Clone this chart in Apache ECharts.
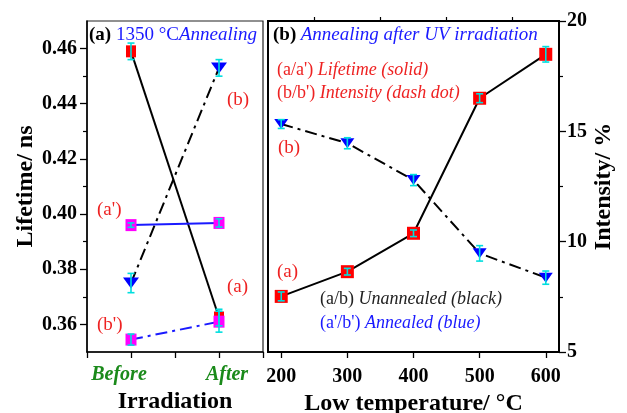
<!DOCTYPE html>
<html><head><meta charset="utf-8">
<script src="https://cdn.jsdelivr.net/npm/echarts@6/dist/echarts.min.js"></script>
<style>html,body{margin:0;padding:0;background:#fff}#c{width:627px;height:413px}</style>
</head><body><div id="c"></div>
<script>
// ---- data ----
const irradiationLabels = ['Before', 'After'];
const irradiationPos = [1, 3];
const lifetimeUnannealed = [0.4590, 0.3625];
const lifetimeUnannealedErr = [0.0030, 0.0030];
const intensityUnannealed = [0.3750, 0.4530];
const intensityUnannealedErr = [0.0035, 0.0030];
const lifetimeAnnealed = [0.3960, 0.3968];
const lifetimeAnnealedErr = [0.0008, 0.0015];
const intensityAnnealed = [0.3545, 0.3610];
const intensityAnnealedErr = [0.0020, 0.0038];

const temperatures = [200, 300, 400, 500, 600];
const lifetimeTemp = [7.52, 8.64, 10.38, 16.50, 18.49];
const lifetimeTempErr = [0.20, 0.15, 0.15, 0.20, 0.35];
const intensityTemp = [15.33, 14.46, 12.79, 9.47, 8.37];
const intensityTempErr = [0.20, 0.25, 0.25, 0.35, 0.30];

const leftTicks = [0.36, 0.38, 0.40, 0.42, 0.44, 0.46];
const leftMinorTicks = [0.37, 0.39, 0.41, 0.43, 0.45];
const tempTicks = [200, 300, 400, 500, 600];
const tempMinorTicks = [250, 350, 450, 550];

// ---- helpers ----
const FONT = '"Liberation Serif","Times New Roman",Times,serif';
const RED = '#ee2222', BLUE = '#1a1aff', GREEN = '#1a8a1a';
const pair = (xs, ys) => xs.map((x, i) => [x, ys[i]]);
const triple = (xs, ys, es) => xs.map((x, i) => [x, ys[i], es[i]]);
const axLine = {show: true, lineStyle: {color: '#000', width: 1.5}};

function errRender(params, api) {
  const x = api.value(0), y = api.value(1), e = api.value(2);
  const t = api.coord([x, y + e]), b = api.coord([x, y - e]);
  const w = 3.5;
  const style = {stroke: '#00dede', lineWidth: 1.6};
  return {type: 'group', children: [
    {type: 'line', shape: {x1: t[0], y1: t[1], x2: b[0], y2: b[1]}, style},
    {type: 'line', shape: {x1: t[0] - w, y1: t[1], x2: t[0] + w, y2: t[1]}, style},
    {type: 'line', shape: {x1: b[0] - w, y1: b[1], x2: b[0] + w, y2: b[1]}, style}
  ]};
}
function errSeries(data, xi, yi) {
  return {type: 'custom', xAxisIndex: xi, yAxisIndex: yi, renderItem: errRender,
    dimensions: ['x', 'y', 'e'], encode: {x: 0, y: 1}, data, z: 10, silent: true};
}
function lineSeries(data, xi, yi, color, dash, symbol, size, fill, rotate) {
  return {type: 'line', xAxisIndex: xi, yAxisIndex: yi, data,
    lineStyle: {color, width: 2, type: dash ? [12, 5, 3, 5] : 'solid'},
    symbol, symbolSize: size, symbolRotate: rotate || 0, showSymbol: true,
    itemStyle: {color: fill, borderColor: fill, borderWidth: 0, opacity: 1},
    z: 3, animation: false};
}
const dashDot = true;

const series = [
  // panel (a)
  lineSeries(pair(irradiationPos, intensityUnannealed), 0, 0, '#000', dashDot, 'triangle', [16, 11], '#0000ff', 180),
  lineSeries(pair(irradiationPos, lifetimeUnannealed), 0, 0, '#000', false, 'rect', [10, 12], '#ff0000'),
  lineSeries(pair(irradiationPos, lifetimeAnnealed), 0, 0, BLUE, false, 'rect', [11, 12], '#ff00ff'),
  lineSeries(pair(irradiationPos, intensityAnnealed), 0, 0, BLUE, dashDot, 'rect', [11, 12], '#ff00ff'),
  errSeries(triple(irradiationPos, intensityUnannealed, intensityUnannealedErr), 0, 0),
  errSeries(triple(irradiationPos, lifetimeUnannealed, lifetimeUnannealedErr), 0, 0),
  errSeries(triple(irradiationPos, lifetimeAnnealed, lifetimeAnnealedErr), 0, 0),
  errSeries(triple(irradiationPos, intensityAnnealed, intensityAnnealedErr), 0, 0),
  // panel (b)
  lineSeries(pair(temperatures, intensityTemp), 1, 2, '#000', dashDot, 'triangle', [14, 10], '#0000ff', 180),
  lineSeries(pair(temperatures, lifetimeTemp), 1, 2, '#000', false, 'rect', [13, 13], '#ff0000'),
  errSeries(triple(temperatures, intensityTemp, intensityTempErr), 1, 2),
  errSeries(triple(temperatures, lifetimeTemp, lifetimeTempErr), 1, 2)
];

const RICH = {
  bk: {fontFamily: FONT, fontSize: 19, fontWeight: 'bold', fill: '#000'},
  bl: {fontFamily: FONT, fontSize: 19, fill: BLUE},
  bli: {fontFamily: FONT, fontSize: 19, fontStyle: 'italic', fill: BLUE},
  rd: {fontFamily: FONT, fontSize: 18, fill: RED},
  rdi: {fontFamily: FONT, fontSize: 18, fontStyle: 'italic', fill: RED},
  rl: {fontFamily: FONT, fontSize: 19, fill: RED},
  k: {fontFamily: FONT, fontSize: 18, fill: '#222'},
  ki: {fontFamily: FONT, fontSize: 18, fontStyle: 'italic', fill: '#222'},
  b2: {fontFamily: FONT, fontSize: 18, fill: BLUE},
  bi2: {fontFamily: FONT, fontSize: 18, fontStyle: 'italic', fill: BLUE}
};
function txt(x, y, text) {
  return {type: 'text', x, y, z: 100, style: {text, verticalAlign: 'middle', align: 'left', rich: RICH, fill: '#000', font: '18px ' + FONT}};
}

const graphic = [
  txt(89, 35, '{bk|(a)}{bl| 1350 °C}{bli|Annealing}'),
  txt(273, 35, '{bk|(b)} {bli|Annealing after UV irradiation}'),
  txt(277, 70, "{rd|(a/a')} {rdi|Lifetime (solid)}"),
  txt(277, 93, "{rd|(b/b')} {rdi|Intensity (dash dot)}"),
  txt(278, 148, '{rl|(b)}'),
  txt(277, 272, '{rl|(a)}'),
  txt(320, 299, '{k|(a/b)} {ki|Unannealed (black)}'),
  txt(320, 323, "{b2|(a'/b')} {bi2|Annealed (blue)}"),
  txt(227, 100, '{rl|(b)}'),
  txt(97, 210, "{rl|(a')}"),
  txt(227, 287, '{rl|(a)}'),
  txt(97, 325, "{rl|(b')}")
];

const tickLbl = {fontFamily: FONT, fontSize: 20, fontWeight: 'bold', color: '#000'};
const nameStyle = {fontFamily: FONT, fontSize: 24, fontWeight: 'bold', color: '#000'};

const option = {
  animation: false,
  backgroundColor: '#fff',
  grid: [
    {left: 87, top: 21, width: 176, height: 331, show: true, borderColor: '#222', borderWidth: 1.2, containLabel: false, outerBoundsMode: 'none'},
    {left: 268, top: 21, width: 291, height: 331, show: true, borderColor: '#000', borderWidth: 2, containLabel: false, outerBoundsMode: 'none'}
  ],
  xAxis: [
    {type: 'value', gridIndex: 0, min: 0, max: 4, interval: 1,
      name: 'Irradiation', nameLocation: 'middle', nameGap: 37, nameTextStyle: nameStyle,
      axisLine: axLine, axisTick: {show: true, length: 6, lineStyle: {color: '#000', width: 1.3}},
      axisLabel: {margin: 13, formatter: v => v === irradiationPos[0] ? '{b|' + irradiationLabels[0] + '}' : (v === irradiationPos[1] ? '{a|' + irradiationLabels[1] + '}' : ''),
        rich: {
          b: {fontFamily: FONT, fontSize: 20, fontWeight: 'bold', fontStyle: 'italic', color: GREEN, padding: [0, 24, 0, 0]},
          a: {fontFamily: FONT, fontSize: 20, fontWeight: 'bold', fontStyle: 'italic', color: GREEN, padding: [0, 0, 0, 16]}
        }},
      splitLine: {show: false}},
    {type: 'value', gridIndex: 1, min: 180, max: 620,
      name: 'Low temperature/ °C', nameLocation: 'middle', nameGap: 33, nameTextStyle: nameStyle,
      axisLine: axLine, axisTick: {show: true, length: 6, customValues: tempTicks, lineStyle: {color: '#000', width: 1.3}},
      axisLabel: Object.assign({margin: 15, customValues: tempTicks}, tickLbl),
      splitLine: {show: false}},
    {type: 'value', gridIndex: 1, min: 180, max: 620,
      axisLine: {show: false}, axisTick: {show: true, length: 4, customValues: tempMinorTicks, lineStyle: {color: '#000', width: 1.2}},
      axisLabel: {show: false}, splitLine: {show: false}}
  ],
  yAxis: [
    {type: 'value', gridIndex: 0, position: 'left', min: 0.35, max: 0.47,
      name: 'Lifetime/ ns', nameLocation: 'middle', nameGap: 49, nameRotate: 90, nameTextStyle: nameStyle,
      axisLine: axLine, axisTick: {show: true, length: 7, customValues: leftTicks, lineStyle: {color: '#000', width: 1.3}},
      axisLabel: Object.assign({margin: 10, customValues: leftTicks, formatter: v => v.toFixed(2)}, tickLbl),
      splitLine: {show: false}},
    {type: 'value', gridIndex: 0, position: 'left', min: 0.35, max: 0.47,
      axisLine: {show: false}, axisTick: {show: true, length: 4, customValues: leftMinorTicks, lineStyle: {color: '#000', width: 1.2}},
      axisLabel: {show: false}, splitLine: {show: false}},
    {type: 'value', gridIndex: 1, position: 'right', min: 5, max: 20, interval: 5,
      name: 'Intensity/ %', nameLocation: 'middle', nameGap: 33, nameRotate: 90, nameTextStyle: nameStyle,
      axisLine: axLine, axisTick: {show: true, length: 7, lineStyle: {color: '#000', width: 1.3}},
      minorTick: {show: true, splitNumber: 2, length: 4, lineStyle: {color: '#000', width: 1.2}},
      axisLabel: Object.assign({margin: 8}, tickLbl),
      splitLine: {show: false}, minorSplitLine: {show: false}}
  ],
  series,
  graphic
};

const chart = echarts.init(document.getElementById('c'), null, {renderer: 'canvas'});
chart.setOption(option);
</script>
</body></html>
